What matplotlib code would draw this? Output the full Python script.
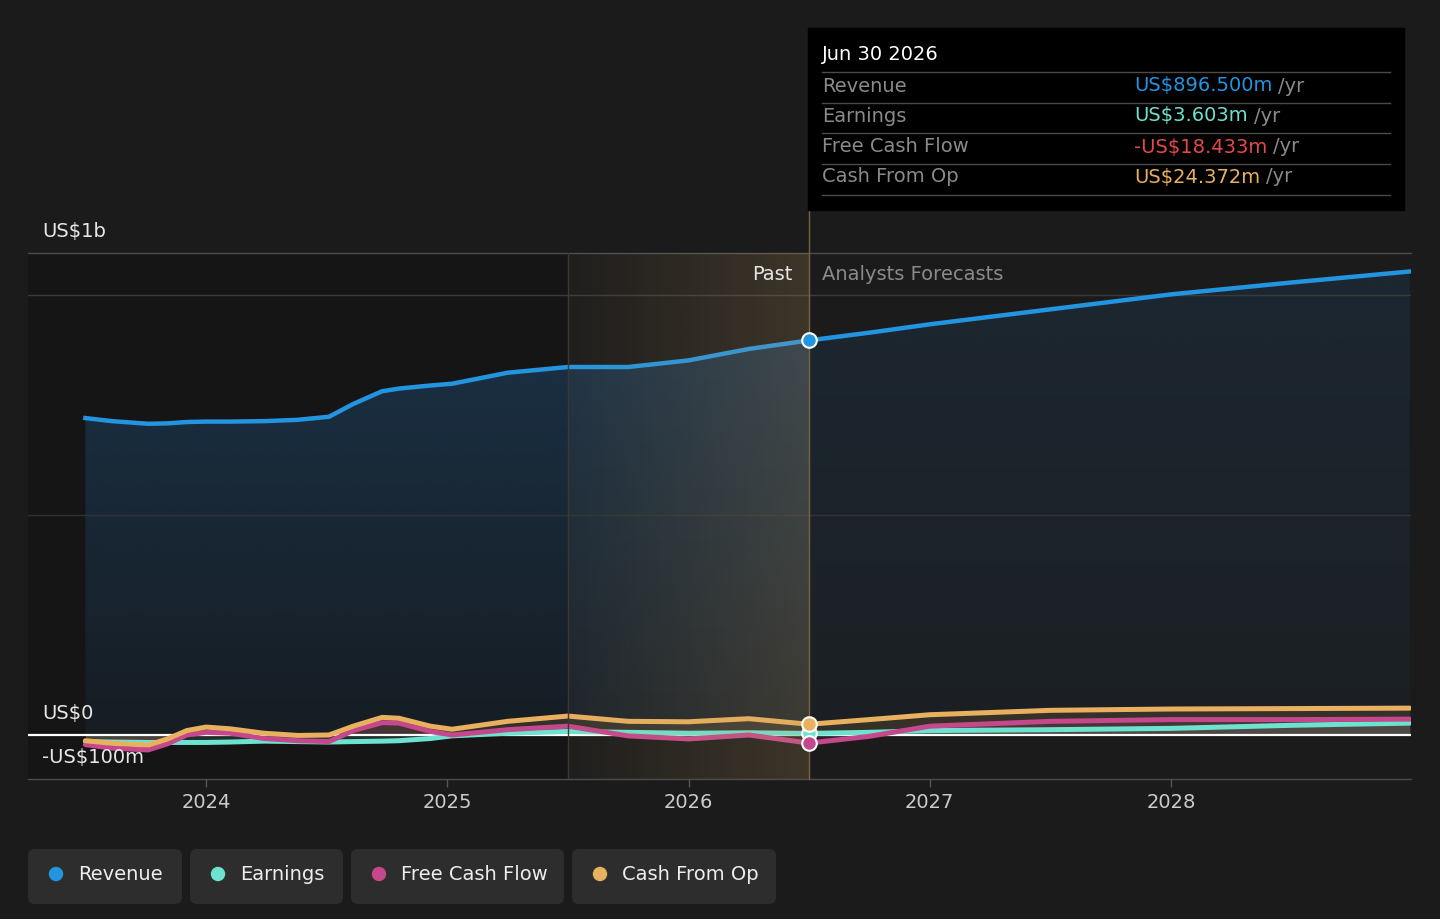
import numpy as np
import matplotlib.pyplot as plt
from matplotlib.patches import FancyBboxPatch, Rectangle, Circle
from matplotlib.colors import to_rgb

W, H = 1440, 919

# values in US$ millions
years = [2023.5, 2023.61, 2023.76, 2023.84, 2023.92, 2024.0, 2024.1, 2024.24, 2024.38,
         2024.51, 2024.61, 2024.73, 2024.8, 2024.93, 2025.02, 2025.25, 2025.5, 2025.75,
         2026.0, 2026.25, 2026.5, 2026.75, 2027.0, 2027.5, 2028.0, 2028.5, 2028.99]
revenue = [720, 713, 707, 708, 711, 712, 712, 713, 716, 723, 752, 781, 787, 794, 798,
           823, 836, 836, 851, 877, 896.5, 914, 933, 967, 1001, 1028, 1053]
earnings = [-15, -16, -17, -17, -17, -17, -16, -14, -15, -16, -15, -14, -13, -8, -2,
            4, 8, 6, 4, 5, 3.6, 6, 10, 12, 15, 22, 27]
free_cash_flow = [-22, -30, -34, -20, 0, 6, 4, -8, -13, -15, 10, 28, 27, 8, 0,
                  12, 20, -2, -9, 0, -18.4, -3, 20, 31, 35, 35, 36]
cash_from_op = [-13, -19, -23, -9, 10, 18, 14, 4, -1, 0, 20, 40, 38, 20, 13,
                31, 43, 31, 30, 37, 24.4, 35, 46, 56, 59, 60, 61]

tick_years = [2024, 2025, 2026, 2027, 2028]
tick_labels = ['2024', '2025', '2026', '2027', '2028']

series_names = ['Revenue', 'Earnings', 'Free Cash Flow', 'Cash From Op']
tooltip_date = 'Jun 30 2026'
tooltip_values = ['US$896.500m', 'US$3.603m', '-US$18.433m', 'US$24.372m']

past_start = 2025.5
now = 2026.5

bg = '#1b1b1b'
c_rev = '#2394df'
c_earn = '#6de3cf'
c_fcf = '#c4488b'
c_cfo = '#e8b05f'
value_colors = [c_rev, c_earn, '#e5484d', c_cfo]
dot_colors = [c_rev, c_earn, c_fcf, c_cfo]

plt.rcParams['font.family'] = 'DejaVu Sans'
fs = 14

fig = plt.figure(figsize=(W / 100, H / 100), dpi=100, facecolor=bg)
ax = fig.add_axes([28 / W, 1 - 779 / H, (1411 - 28) / W, (779 - 253) / H])
ax.set_facecolor(bg)
x0, x1 = 2023.262, 2028.995
y0, y1 = -100, 1095

# darker past area
ax.axvspan(x0, past_start, color='#151515', zorder=0, lw=0)

# revenue area with vertical gradient, brighter for the past part
poly = ax.fill_between(years, 0, revenue, color='none', lw=0)
clip = poly.get_paths()[0]
for (ex0, ex1), (a0, a1) in [((years[0], now), (0.12, 0.45)), ((now, years[-1]), (0.07, 0.2))]:
    grad = np.zeros((256, 1, 4))
    grad[..., :3] = to_rgb('#21598c')
    grad[..., 3] = np.linspace(a0, a1, 256).reshape(-1, 1)
    im = ax.imshow(grad, extent=[ex0, ex1, 0, max(revenue)], origin='lower',
                   aspect='auto', zorder=1, interpolation='bilinear')
    im.set_clip_path(clip, ax.transData)

# grid
ax.axhline(1000, color='#3a3a3a', lw=1, zorder=1.5)
ax.axhline(500, color='#323232', lw=1, zorder=1.5)

# small series
for s, c in [(earnings, c_earn), (free_cash_flow, c_fcf), (cash_from_op, c_cfo)]:
    ax.fill_between(years, 0, s, color=c, alpha=0.13, lw=0, zorder=2)
ax.axhline(0, color='white', lw=1.6, zorder=2.5)
for s, c in [(earnings, c_earn), (free_cash_flow, c_fcf), (cash_from_op, c_cfo)]:
    ax.plot(years, s, color=c, lw=3.6, zorder=3, solid_joinstyle='round', solid_capstyle='round')
ax.plot(years, revenue, color=c_rev, lw=3.2, zorder=3.5, solid_joinstyle='round')

# golden overlay for the last past year
gold = np.zeros((1, 256, 4))
gold[..., :3] = to_rgb('#c9a062')
gold[..., 3] = np.linspace(0.03, 0.2, 256)
ax.imshow(gold, extent=[past_start, now, y0, y1], aspect='auto', zorder=4, interpolation='bilinear')
ax.axvline(past_start, color='#3d3830', lw=1, zorder=4.5)
ax.plot([now, now], [y0, (735 - 210) / 0.44], color='#7a6440', lw=1, zorder=4.5, clip_on=False)

# markers at the tooltip date
i = years.index(now)
for s, c in [(earnings, c_earn), (free_cash_flow, c_fcf), (cash_from_op, c_cfo), (revenue, c_rev)]:
    ax.scatter([now], [s[i]], s=110, color=c, edgecolor='white', linewidth=1.5, zorder=6)

ax.set_xlim(x0, x1)
ax.set_ylim(y0, y1)
ax.set_xticks(tick_years, tick_labels)
ax.set_yticks([])
ax.tick_params(axis='x', colors='#555555', labelcolor='#cccccc', length=6, width=1,
               labelsize=fs, pad=4)
for side in ['left', 'right']:
    ax.spines[side].set_visible(False)
for side in ['top', 'bottom']:
    ax.spines[side].set_color('#4d4d4d')
    ax.spines[side].set_linewidth(1)

# overlay in pixel coordinates for labels, tooltip and legend
ov = fig.add_axes([0, 0, 1, 1], zorder=10)
ov.set_xlim(0, W)
ov.set_ylim(H, 0)
ov.axis('off')
ov.patch.set_alpha(0)

ov.text(42, 232, 'US$1b', color='#e8e8e8', fontsize=fs, va='center')
ov.text(42, 714, 'US$0', color='#e8e8e8', fontsize=fs, va='center')
ov.text(42, 758, '-US$100m', color='#e8e8e8', fontsize=fs, va='center')
ov.text(793, 274, 'Past', color='#e6e6e6', fontsize=fs, va='center', ha='right')
ov.text(822, 274, 'Analysts Forecasts', color='#8a8a8a', fontsize=fs, va='center')

# tooltip
ov.add_patch(Rectangle((808, 28), 596, 182, color='black', zorder=1))
ov.text(822, 55, tooltip_date, color='white', fontsize=fs, va='center', zorder=2)
for yy in [72, 103, 133, 164, 195]:
    ov.plot([822, 1390], [yy, yy], color='#4a4a4a', lw=1, zorder=2)
row_y = [86, 116, 147, 177]
value_texts = []
for name, val, c, yy in zip(series_names, tooltip_values, value_colors, row_y):
    ov.text(822, yy, name, color='#8a8a8a', fontsize=fs, va='center', zorder=2)
    value_texts.append(ov.text(1134, yy, val, color=c, fontsize=fs, va='center', zorder=2))

# legend buttons
boxes = [(28, 182), (190, 343), (351, 564), (572, 776)]
for (bx0, bx1), name, c in zip(boxes, series_names, dot_colors):
    ov.add_patch(FancyBboxPatch((bx0, 849), bx1 - bx0, 55,
                                boxstyle='round,pad=0,rounding_size=7',
                                facecolor='#2d2d2d', edgecolor='none'))
    ov.add_patch(Circle((bx0 + 28, 874), 6.5, color=c))
    ov.text(bx0 + 50, 874, name, color='#eeeeee', fontsize=fs, va='center')

fig.canvas.draw()
r = fig.canvas.get_renderer()
for t, yy in zip(value_texts, row_y):
    bb = t.get_window_extent(r)
    ov.text(bb.x1 + 6, yy, '/yr', color='#8a8a8a', fontsize=fs, va='center', zorder=2)

fig.savefig('out.png', dpi=100, facecolor=bg)
